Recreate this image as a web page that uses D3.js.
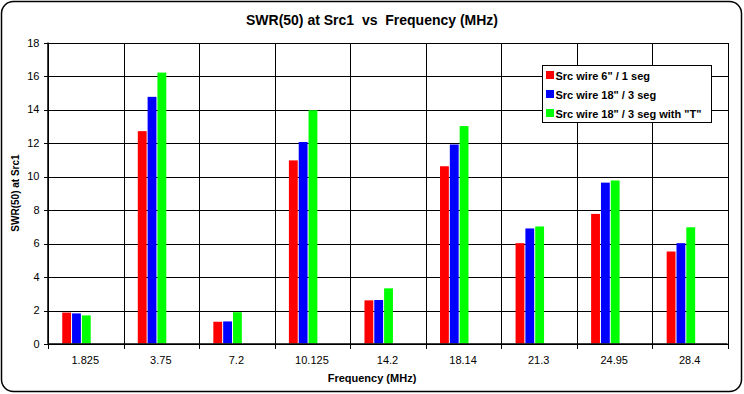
<!DOCTYPE html>
<meta charset="utf-8">
<style>
  body { margin: 0; background: #fff; }
  text { font-family: "Liberation Sans", Arial, sans-serif; fill: #000; }
  .grid line { stroke: #000; stroke-width: 1px; shape-rendering: crispEdges; }
</style>
<body>
<script src="https://d3js.org/d3.v7.min.js"></script>
<script>
// categories (frequency, MHz)
var freqs = ["1.825", "3.75", "7.2", "10.125", "14.2", "18.14", "21.3", "24.95", "28.4"];
// series
var seriesNames = ["Src wire 6\" / 1 seg", "Src wire 18\" / 3 seg", "Src wire 18\" / 3 seg with \"T\""];
var seriesColors = ["#ff0000", "#0000ff", "#00ff00"];
var wire6 = [1.85, 12.7, 1.3, 10.95, 2.58, 10.6, 6.0, 7.75, 5.5];
var wire18 = [1.8, 14.75, 1.32, 12.05, 2.6, 11.9, 6.88, 9.62, 6.0];
var wire18T = [1.68, 16.2, 1.87, 13.95, 3.3, 13.0, 7.0, 9.75, 6.95];
var yTicks = [0, 2, 4, 6, 8, 10, 12, 14, 16, 18];

var seriesValues = [wire6, wire18, wire18T];

var width = 744, height = 394;
var margin = {top: 42.5, right: 16.5, bottom: 50.5, left: 47.5};
var chartWidth = width - margin.left - margin.right,
    chartHeight = height - margin.top - margin.bottom;

var svg = d3.select("body").append("svg")
    .attr("width", width)
    .attr("height", height);

// outer rounded frame
svg.append("rect")
    .attr("x", 1.5).attr("y", 1.5)
    .attr("width", width - 4).attr("height", height - 4)
    .attr("rx", 12).attr("ry", 12)
    .attr("fill", "#fff")
    .attr("stroke", "#000")
    .attr("stroke-width", 1.5);

var gChart = svg.append("g")
    .attr("transform", "translate(" + margin.left + "," + margin.top + ")");

var xScale = d3.scaleBand()
    .domain(freqs)
    .range([0, chartWidth]);

var yScale = d3.scaleLinear()
    .domain([0, 18])
    .range([chartHeight, 0]);

// bars sit in the left part of each band (Excel style gap)
var bw = xScale.bandwidth();
var xInner = d3.scaleBand()
    .domain(d3.range(seriesNames.length))
    .range([bw * 0.195, bw * 0.195 + bw * 0.377])
    .paddingInner(0.1);

// horizontal gridlines
gChart.append("g").attr("class", "grid")
  .selectAll("line").data(yTicks).join("line")
    .attr("x1", 0).attr("x2", chartWidth)
    .attr("y1", function(d) { return Math.round(yScale(d)) + 0.5; })
    .attr("y2", function(d) { return Math.round(yScale(d)) + 0.5; });

// vertical gridlines at category boundaries
var bounds = freqs.map(function(f) { return xScale(f); }).concat([chartWidth]);
gChart.append("g").attr("class", "grid")
  .selectAll("line").data(bounds).join("line")
    .attr("x1", function(d) { return Math.round(d) + 0.5; })
    .attr("x2", function(d) { return Math.round(d) + 0.5; })
    .attr("y1", 0).attr("y2", chartHeight + 5);

// y ticks
gChart.append("g").attr("class", "grid")
  .selectAll("line").data(yTicks).join("line")
    .attr("x1", -4).attr("x2", 0)
    .attr("y1", function(d) { return Math.round(yScale(d)) + 0.5; })
    .attr("y2", function(d) { return Math.round(yScale(d)) + 0.5; });

// bars
seriesValues.forEach(function(vals, si) {
  gChart.append("g")
    .selectAll("rect").data(vals).join("rect")
      .attr("x", function(d, i) { return xScale(freqs[i]) + xInner(si); })
      .attr("width", xInner.bandwidth())
      .attr("y", function(d) { return yScale(d); })
      .attr("height", function(d) { return chartHeight - yScale(d); })
      .attr("fill", seriesColors[si]);
});

// axis baseline
gChart.append("line")
    .attr("x1", 0).attr("x2", chartWidth)
    .attr("y1", chartHeight + 0.5).attr("y2", chartHeight + 0.5)
    .attr("stroke", "#000").attr("stroke-width", 1.5);
gChart.append("line")
    .attr("x1", 0.5).attr("x2", 0.5)
    .attr("y1", 0).attr("y2", chartHeight)
    .attr("stroke", "#000").attr("stroke-width", 1.5);

// y tick labels
gChart.append("g")
  .selectAll("text").data(yTicks).join("text")
    .attr("x", -8)
    .attr("y", function(d) { return yScale(d) + 4; })
    .attr("text-anchor", "end")
    .style("font-size", "11px")
    .text(function(d) { return d; });

// x tick labels
gChart.append("g")
  .selectAll("text").data(freqs).join("text")
    .attr("x", function(d) { return xScale(d) + bw / 2; })
    .attr("y", chartHeight + 20)
    .attr("text-anchor", "middle")
    .style("font-size", "11px")
    .text(function(d) { return d; });

// title
svg.append("text")
    .attr("x", 372).attr("y", 25)
    .attr("text-anchor", "middle")
    .style("font-size", "14px").style("font-weight", "bold")
    .attr("xml:space", "preserve")
    .text("SWR(50) at Src1  vs  Frequency (MHz)");

// x axis title
svg.append("text")
    .attr("x", 372).attr("y", 382)
    .attr("text-anchor", "middle")
    .style("font-size", "11px").style("font-weight", "bold")
    .text("Frequency (MHz)");

// y axis title
svg.append("text")
    .attr("transform", "translate(19," + (margin.top + chartHeight / 2) + ") rotate(-90)")
    .attr("text-anchor", "middle")
    .style("font-size", "10px").style("font-weight", "bold")
    .text("SWR(50) at Src1");

// legend
var legend = svg.append("g").attr("transform", "translate(542.5,65.5)");
legend.append("rect")
    .attr("width", 169).attr("height", 57)
    .attr("fill", "#fff").attr("stroke", "#000").attr("stroke-width", 1);
var items = legend.selectAll("g").data(seriesNames).join("g")
    .attr("transform", function(d, i) { return "translate(0," + (10 + i * 19) + ")"; });
items.append("rect")
    .attr("x", 3.5).attr("y", -4.5)
    .attr("width", 8).attr("height", 8)
    .attr("fill", function(d, i) { return seriesColors[i]; });
items.append("text")
    .attr("x", 13).attr("y", 4)
    .style("font-size", "11px").style("font-weight", "bold")
    .text(function(d) { return d; });
</script>
</body>
